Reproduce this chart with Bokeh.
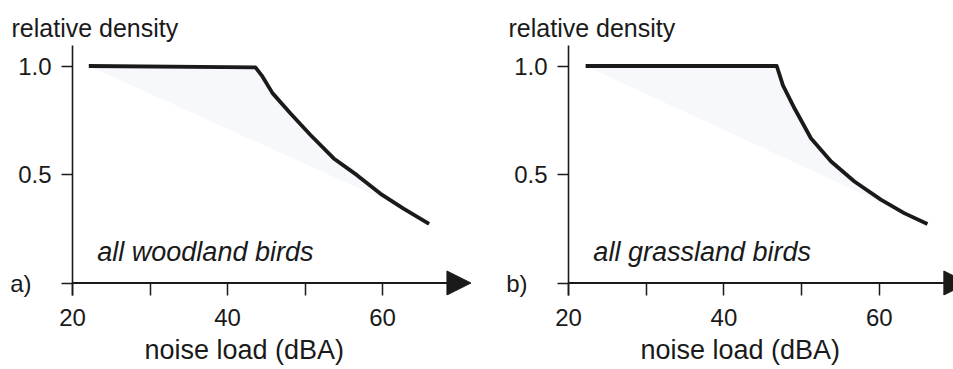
from bokeh.plotting import figure
from bokeh.layouts import row
from bokeh.models import (Range1d, FixedTicker, Label, Arrow, NormalHead,
                          CustomJSTickFormatter, Title)
from bokeh.embed import file_html
from bokeh.resources import INLINE

# ---- data ----
x_ticks = [20, 30, 40, 50, 60]
x_tick_labels = ["20", "", "40", "", "60"]
y_ticks = [0.0, 0.5, 1.0]

wood_noise = [22.1, 43.6, 44.5, 45.8, 48.1, 50.7, 53.7, 56.7, 59.7, 62.7, 66.0]
wood_density = [1.0, 0.994, 0.952, 0.875, 0.782, 0.682, 0.574, 0.497, 0.412, 0.343, 0.273]

grass_noise = [22.2, 46.8, 47.6, 49.1, 51.2, 53.8, 56.8, 60.2, 63.2, 66.2]
grass_density = [1.0, 1.0, 0.911, 0.804, 0.667, 0.560, 0.468, 0.384, 0.322, 0.272]

y_title = "relative density"
x_title = "noise load (dBA)"
captions = ["all woodland birds", "all grassland birds"]
letters = ["a)", "b)"]

FONT = "Liberation Sans"
INK = "#1a1a1a"
SHADE = "#f6f8fc"
Y0, Y1 = -0.0576, 1.0945
H = 369


def panel(noise, density, n_shade, caption, letter, width, left, right, x_end,
          title_offset, xlab_offset):
    p = figure(width=width, height=H, output_backend="svg", toolbar_location=None,
               x_range=Range1d(20, x_end), y_range=Range1d(Y0, Y1),
               min_border_left=left, min_border_right=right,
               min_border_top=45, min_border_bottom=H - 295,
               title=y_title)
    p.outline_line_color = None
    p.xgrid.visible = False
    p.ygrid.visible = False
    p.background_fill_color = "white"
    p.border_fill_color = "white"

    t = p.title
    t.text_font = FONT
    t.text_font_size = "25px"
    t.text_font_style = "normal"
    t.text_color = INK
    t.align = "left"
    t.offset = title_offset
    t.standoff = 7

    # shaded wedge below the curve
    p.patch(noise[:n_shade], density[:n_shade], fill_color=SHADE, line_color=None)
    # the curve
    p.line(noise, density, line_color=INK, line_width=3.8, line_join="round", line_cap="butt")

    # x axis: ticks hang below the arrow line (drawn inside the frame)
    xa = p.xaxis[0]
    xa.ticker = FixedTicker(ticks=x_ticks)
    xa.formatter = CustomJSTickFormatter(
        args=dict(tick_vals=x_ticks, tick_text=x_tick_labels),
        code="const i = tick_vals.indexOf(tick); return i < 0 ? '' : tick_text[i];")
    xa.major_tick_out = 0
    xa.major_tick_in = 12
    xa.minor_tick_line_color = None
    xa.axis_line_color = None
    xa.major_tick_line_width = 1.5
    xa.major_tick_line_color = INK
    xa.major_label_text_font = FONT
    xa.major_label_text_font_size = "24px"
    xa.major_label_text_color = INK
    xa.major_label_standoff = 13

    ya = p.yaxis[0]
    ya.ticker = FixedTicker(ticks=y_ticks)
    ya.formatter = CustomJSTickFormatter(
        args=dict(letter=letter + "\u00a0\u00a0\u00a0"),
        code="return tick == 0 ? letter : tick.toFixed(1);")
    ya.major_tick_out = 11
    ya.major_tick_in = 0
    ya.minor_tick_line_color = None
    ya.axis_line_width = 1.6
    ya.axis_line_color = INK
    ya.major_tick_line_width = 1.5
    ya.major_tick_line_color = INK
    ya.major_label_text_font = FONT
    ya.major_label_text_font_size = "24px"
    ya.major_label_text_color = INK
    ya.major_label_standoff = 10

    # x axis line with arrow head
    p.add_layout(Arrow(x_start=20, y_start=0, x_end=71.4, y_end=0,
                       line_color=INK, line_width=2,
                       end=NormalHead(size=24, fill_color=INK, line_color=INK)))

    p.add_layout(Title(text=x_title, align="left", offset=xlab_offset, standoff=9,
                       text_font=FONT, text_font_size="27px",
                       text_font_style="normal", text_color=INK), "below")

    p.add_layout(Label(x=23.2, y=0.145, text=caption, text_align="left",
                       text_baseline="alphabetic", text_font=FONT,
                       text_font_size="27px", text_font_style="italic",
                       text_color=INK))
    return p


p1 = panel(wood_noise, wood_density, 10, captions[0], letters[0],
           width=476, left=72, right=4, x_end=71.6, title_offset=-61, xlab_offset=72)
p2 = panel(grass_noise, grass_density, 9, captions[1], letters[1],
           width=477, left=92, right=0, x_end=69.55, title_offset=-60, xlab_offset=72)

layout = row(p1, p2)
open("out.html", "w").write(file_html(layout, INLINE))
